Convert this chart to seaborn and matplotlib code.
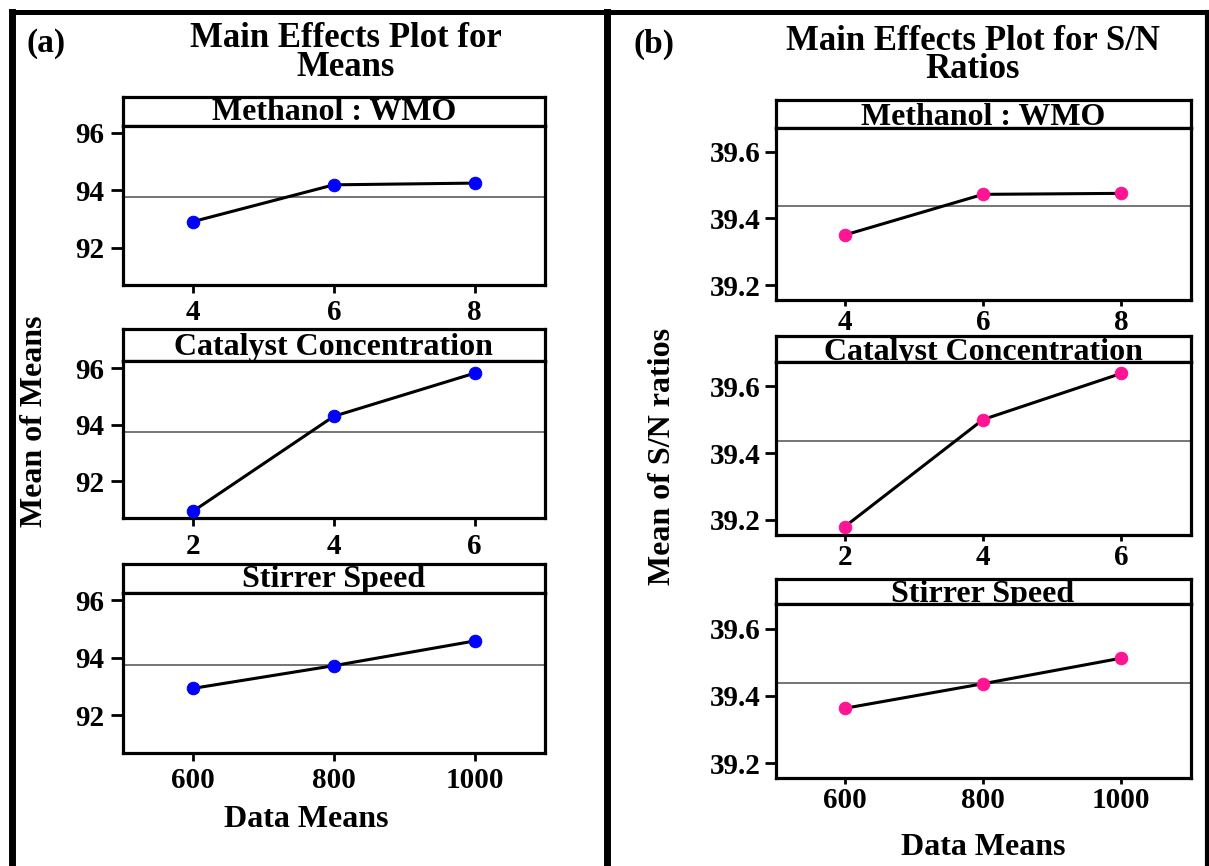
import numpy as np
import pandas as pd
import matplotlib
matplotlib.use("Agg")
import matplotlib.pyplot as plt
import seaborn as sns
from matplotlib.lines import Line2D

# Factor levels
methanol_levels = [4, 6, 8]
catalyst_levels = [2, 4, 6]
stirrer_levels = [600, 800, 1000]
factor_names = ["Methanol : WMO", "Catalyst Concentration", "Stirrer Speed"]

# (a) mean of means
means_methanol = [92.91, 94.19, 94.25]
means_catalyst = [90.95, 94.30, 95.82]
means_stirrer = [92.94, 93.73, 94.59]
means_grand = 93.76
means_ticks = [92, 94, 96]

# (b) mean of S/N ratios
sn_methanol = [39.350, 39.472, 39.475]
sn_catalyst = [39.180, 39.500, 39.638]
sn_stirrer = [39.363, 39.436, 39.512]
sn_grand = 39.437
sn_ticks = [39.2, 39.4, 39.6]

sns.set_style("ticks")
plt.rcParams["font.family"] = ["Liberation Serif", "DejaVu Serif"]
plt.rcParams["font.weight"] = "bold"
plt.rcParams["axes.labelweight"] = "bold"
for key in ["text.color", "axes.labelcolor", "xtick.color", "ytick.color"]:
    plt.rcParams[key] = "black"

W, H = 1209, 866
fig = plt.figure(figsize=(W / 100, H / 100), dpi=100)


def box(l, t, r, b):
    return [l / W, 1 - b / H, (r - l) / W, (b - t) / H]


def ftext(x, y, s, **kw):
    return fig.text(x / W, 1 - y / H, s, **kw)


def draw_panel(left, right, rows, levels, values, grand, yticks, ylim, ytfmt,
               color, base, xtick, ytick):
    for (ht, pt, pb), name, lv, vals in zip(rows, factor_names, levels, values):
        # header strip
        hax = fig.add_axes(box(left, ht, right, pt))
        hax.set_xticks([])
        hax.set_yticks([])
        for sp in hax.spines.values():
            sp.set_linewidth(2.3)
            sp.set_color("black")
        hax.text(0.5, base, name, transform=hax.transAxes, ha="center",
                 va="baseline", fontsize=23, fontweight="bold", clip_on=True)

        ax = fig.add_axes(box(left, pt, right, pb))
        df = pd.DataFrame({"level": lv, "value": vals})
        ax.axhline(grand, color="#6a6a6a", lw=1.3, zorder=1)
        sns.lineplot(data=df, x="level", y="value", ax=ax, color="black",
                     lw=2.2, marker="o", markersize=9, markerfacecolor=color,
                     markeredgecolor=color, zorder=3)
        step = lv[1] - lv[0]
        ax.set_xlim(lv[0] - step / 2, lv[-1] + step / 2)
        ax.set_ylim(*ylim)
        ax.set_xticks(lv)
        ax.set_xticklabels([str(v) for v in lv])
        ax.set_yticks(yticks)
        ax.set_yticklabels([ytfmt.format(v) for v in yticks])
        ax.set_xlabel("")
        ax.set_ylabel("")
        for sp in ax.spines.values():
            sp.set_visible(True)
            sp.set_linewidth(2.3)
            sp.set_color("black")
        ax.tick_params(axis="both", direction="out", width=2, labelsize=21,
                       top=False, right=False)
        ax.tick_params(axis="x", length=xtick[0], pad=xtick[1])
        ax.tick_params(axis="y", length=ytick[0], pad=ytick[1])


# left panel (a)
draw_panel(122.7, 545,
           [(96.7, 125.7, 285), (329.3, 361, 518.3), (564, 593.3, 752.7)],
           [methanol_levels, catalyst_levels, stirrer_levels],
           [means_methanol, means_catalyst, means_stirrer],
           means_grand, means_ticks, (90.7, 96.25), "{:.0f}", "#0000ff", 0.2,
           (5.8, 4.5), (9, 4.5))

# right panel (b)
draw_panel(775.6, 1190.5,
           [(100, 127.7, 300), (336, 362, 535), (579.3, 604.3, 778.3)],
           [methanol_levels, catalyst_levels, stirrer_levels],
           [sn_methanol, sn_catalyst, sn_stirrer],
           sn_grand, sn_ticks, (39.155, 39.672), "{:.1f}", "#ff1493", 0.08,
           (4.5, 2), (7.6, 3))

# titles and labels
tkw = dict(fontsize=25, fontweight="bold", va="top", ha="center",
           linespacing=0.82)
ftext(346, 22, "Main Effects Plot for\nMeans", **tkw)
ftext(973, 25, "Main Effects Plot for S/N\nRatios", **tkw)
ftext(27, 52, "(a)", fontsize=24, fontweight="bold", va="baseline", ha="left")
ftext(634, 53, "(b)", fontsize=24, fontweight="bold", va="baseline", ha="left")

lkw = dict(fontsize=23, fontweight="bold")
ftext(306, 826.7, "Data Means", va="baseline", ha="center", **lkw)
ftext(983.5, 855, "Data Means", va="baseline", ha="center", **lkw)
ftext(35, 421, "Mean of Means", rotation=90, va="center", ha="center", **lkw)
ftext(663, 456, "Mean of S/N ratios", rotation=90, va="center", ha="center", **lkw)

# outer frame and divider
def fline(x0, y0, x1, y1, lw):
    fig.add_artist(Line2D([x0 / W, x1 / W], [1 - y0 / H, 1 - y1 / H],
                          color="black", lw=lw, solid_capstyle="projecting"))

fline(11.5, 11.5, 1207, 11.5, 3.6)
fline(11.5, 11.5, 11.5, H, 5)
fline(606.5, 11.5, 606.5, H, 5)
fline(1207, 11.5, 1207, H, 3)

fig.savefig("out.png", dpi=100)
